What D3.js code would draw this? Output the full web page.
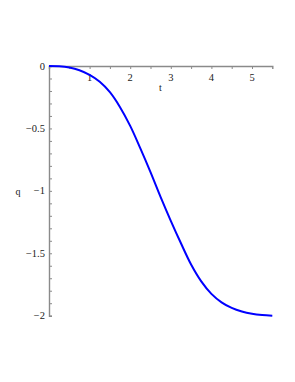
<!DOCTYPE html>
<html>
<head>
<meta charset="utf-8">
<script src="https://cdn.jsdelivr.net/npm/d3@7"></script>
<style>
  html, body { margin: 0; padding: 0; background: #fff; }
  svg { display: block; }
</style>
</head>
<body>
<svg width="295" height="382"></svg>
<script>
// values
const tValues = [0, 0.25, 0.5, 0.75, 1.0, 1.25, 1.5, 1.75, 2.0, 2.25, 2.5, 2.75,
                 3.0, 3.25, 3.5, 3.75, 4.0, 4.25, 4.5, 4.75, 5.0, 5.25, 5.5];
const qValues = [0, -0.002, -0.012, -0.034, -0.072, -0.127, -0.21, -0.33, -0.48, -0.66, -0.85, -1.05,
                 -1.24, -1.42, -1.59, -1.725, -1.825, -1.893, -1.938, -1.967, -1.985, -1.995, -2.0];
const xTicks = [1, 2, 3, 4, 5];
const yTicks = [0, -0.5, -1, -1.5, -2];

const svg = d3.select("svg");

const x = d3.scaleLinear().domain([0, 5.5]).range([49, 272.3]);
const y = d3.scaleLinear().domain([-2, 0]).range([315.7, 66]);

const axisColor = "#8a8a8a";
const font = "'Liberation Serif', 'DejaVu Serif', serif";

// x axis (sits at q = 0, ticks pointing down)
const xAxis = svg.append("g").attr("transform", `translate(0,${y(0)})`);
xAxis.call(d3.axisBottom(x).tickValues(d3.range(0.5, 5.5, 0.5)).tickSize(3).tickFormat(""));
xAxis.select(".domain").attr("stroke", axisColor).attr("stroke-width", 1.4);
xAxis.selectAll(".tick line").attr("stroke", axisColor);

xAxis.selectAll(".lbl")
  .data(xTicks)
  .join("text")
  .attr("x", d => x(d))
  .attr("y", 15)
  .attr("text-anchor", "middle")
  .attr("font-family", font)
  .attr("font-size", 10.5)
  .attr("fill", "#222")
  .text(d => d);

// y axis (ticks pointing into the plot)
const yAxis = svg.append("g").attr("transform", `translate(${x(0)},0)`);
yAxis.call(d3.axisRight(y).tickValues(d3.range(-20, 1).map(d => d / 10)).tickSize(3).tickFormat(""));
yAxis.select(".domain").attr("stroke", axisColor).attr("stroke-width", 1.4);
yAxis.selectAll(".tick line").attr("stroke", axisColor);

yAxis.selectAll(".lbl")
  .data(yTicks)
  .join("text")
  .attr("x", -4)
  .attr("y", d => y(d) + 3.5)
  .attr("text-anchor", "end")
  .attr("font-family", font)
  .attr("font-size", 10.5)
  .attr("fill", "#222")
  .text(d => d3.format("")(d).replace("-", "\u2212"));

// axis titles
svg.append("text")
  .attr("x", 160.5).attr("y", 91)
  .attr("text-anchor", "middle")
  .attr("font-family", font).attr("font-size", 10).attr("fill", "#222")
  .text("t");

svg.append("text")
  .attr("x", 18).attr("y", 194.5)
  .attr("text-anchor", "middle")
  .attr("font-family", font).attr("font-size", 10).attr("fill", "#222")
  .text("q");

// the curve
const data = tValues.map((t, i) => ({ t: t, q: qValues[i] }));
const line = d3.line()
  .x(d => x(d.t))
  .y(d => y(d.q))
  .curve(d3.curveCatmullRom.alpha(0.5));

svg.append("path")
  .datum(data)
  .attr("fill", "none")
  .attr("stroke", "#0000ff")
  .attr("stroke-width", 2)
  .attr("d", line);
</script>
</body>
</html>
